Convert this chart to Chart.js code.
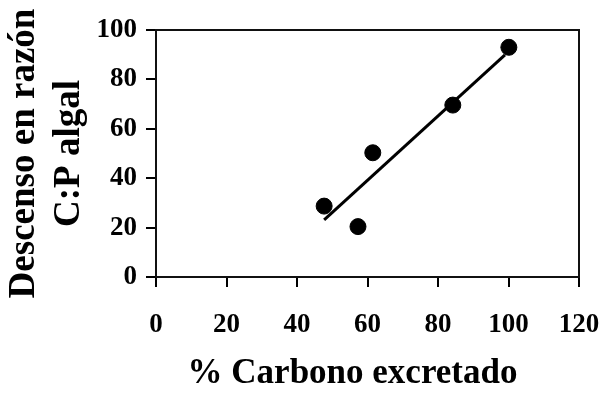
<!DOCTYPE html>
<html>
<head>
<meta charset="utf-8">
<script src="https://cdn.jsdelivr.net/npm/chart.js@4"></script>
<style>
  html, body { margin: 0; padding: 0; background: #fff; }
  #contenedor { width: 603px; height: 394px; }
</style>
</head>
<body>
<div id="contenedor"><canvas id="grafico"></canvas></div>
<script>
// datos: % de carbono excretado vs descenso en la razón C:P algal
const carbonoExcretado = [47.7, 57.3, 61.5, 84.2, 100.1];
const descensoCP = [28.7, 20.4, 50.3, 69.6, 93.0];

// recta de ajuste (extremos)
const tendenciaX = [47.7, 99.0];
const tendenciaY = [23.1, 89.9];

const tituloY = ["Descenso en razón", "C:P algal"];
const tituloX = "% Carbono excretado";

const fuente = "'Liberation Serif', 'Times New Roman', serif";

const puntos = carbonoExcretado.map((x, i) => ({ x: x, y: descensoCP[i] }));
const recta = tendenciaX.map((x, i) => ({ x: x, y: tendenciaY[i] }));

// marco completo del area del grafico
const marco = {
    id: "marco",
    afterDatasetsDraw(chart) {
        const { ctx, chartArea: a } = chart;
        ctx.save();
        ctx.strokeStyle = "#111";
        ctx.lineWidth = 2;
        ctx.strokeRect(a.left, a.top, a.right - a.left, a.bottom - a.top);
        ctx.restore();
    }
};

// titulo del eje x, un poco corrido a la izquierda del centro
const tituloEjeX = {
    id: "tituloEjeX",
    afterDraw(chart) {
        const { ctx, chartArea: a } = chart;
        ctx.save();
        ctx.font = "bold 35px " + fuente;
        ctx.fillStyle = "#000";
        ctx.textAlign = "center";
        ctx.textBaseline = "middle";
        ctx.fillText(tituloX, (a.left + a.right) / 2 - 15, 374);
        ctx.restore();
    }
};

const ctx = document.getElementById("grafico").getContext("2d");

new Chart(ctx, {
    type: "scatter",
    data: {
        datasets: [
            {
                label: "ajuste",
                data: recta,
                showLine: true,
                borderColor: "#000",
                borderWidth: 3,
                pointRadius: 0,
                order: 2
            },
            {
                label: "datos",
                data: puntos,
                backgroundColor: "#000",
                borderColor: "#000",
                pointRadius: 8,
                pointHoverRadius: 8,
                order: 1
            }
        ]
    },
    options: {
        responsive: true,
        maintainAspectRatio: false,
        animation: false,
        layout: { padding: { top: 30, right: 24, left: 0, bottom: 0 } },
        plugins: {
            legend: { display: false },
            tooltip: { enabled: false }
        },
        scales: {
            x: {
                min: 0,
                max: 120,
                afterFit: (scale) => {
                    scale.height = 117;
                    scale.paddingLeft = 0;
                    scale.paddingRight = 0;
                },
                ticks: {
                    stepSize: 20,
                    color: "#000",
                    padding: 22,
                    maxRotation: 0,
                    font: { family: fuente, size: 27, weight: "bold" }
                },
                grid: {
                    drawOnChartArea: false,
                    drawTicks: true,
                    tickLength: 10,
                    color: "#000",
                    lineWidth: 2
                },
                border: { display: true, color: "#000", width: 2 }
            },
            y: {
                min: 0,
                max: 100,
                afterFit: (scale) => {
                    scale.width = 156;
                    scale.paddingTop = 0;
                    scale.paddingBottom = 0;
                },
                ticks: {
                    stepSize: 20,
                    color: "#000",
                    padding: 9,
                    font: { family: fuente, size: 27, weight: "bold" }
                },
                grid: {
                    drawOnChartArea: false,
                    drawTicks: true,
                    tickLength: 10,
                    color: "#000",
                    lineWidth: 2
                },
                border: { display: true, color: "#000", width: 2 },
                title: {
                    display: true,
                    text: tituloY,
                    color: "#000",
                    padding: { top: 2, bottom: 0 },
                    font: { family: fuente, size: 37, weight: "bold", lineHeight: "45px" }
                }
            }
        }
    },
    plugins: [marco, tituloEjeX]
});
</script>
</body>
</html>
